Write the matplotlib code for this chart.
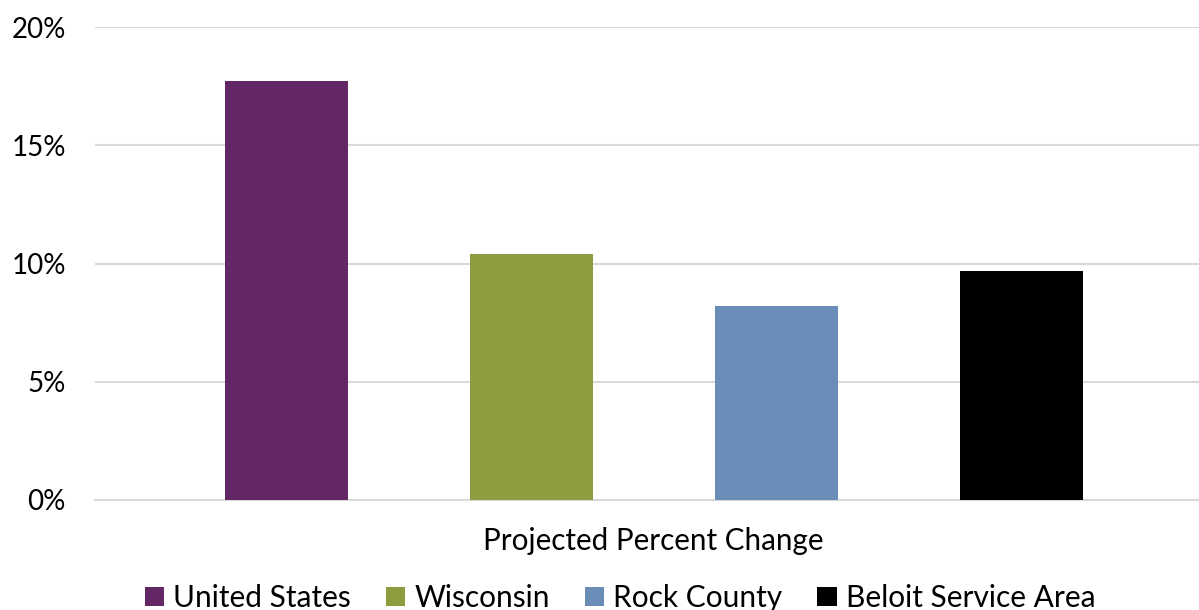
import numpy as np
import matplotlib.pyplot as plt
from matplotlib.patches import Patch

# data
areas = ["United States", "Wisconsin", "Rock County", "Beloit Service Area"]
change = [17.7, 10.4, 8.2, 9.7]
colors = ["#632766", "#8E9B3F", "#6A8DB8", "#000000"]
yticks = [0, 5, 10, 15, 20]
xlabel = "Projected Percent Change"

plt.rcParams['font.family'] = ['Lato', 'DejaVu Sans']

fig = plt.figure(figsize=(11.99, 6.10), dpi=100)
ax = fig.add_axes([95/1199, 1-500/610, 1-95/1199, (500-27)/610])

x = np.arange(len(areas))
ax.bar(x, change, width=0.502, color=colors, zorder=3)

ax.set_ylim(0, 20)
ax.set_xlim(-0.78, 3.724)
ax.set_yticks(yticks)
ax.set_yticklabels([f"{t}%" for t in yticks], fontsize=20)
ax.set_xticks([])
ax.yaxis.grid(True, color="#D9D9D9", linewidth=1.5, zorder=0)
ax.tick_params(axis='y', length=0, pad=21)
for s in ["top", "right", "left"]:
    ax.spines[s].set_visible(False)
ax.spines["bottom"].set_color("#D9D9D9")
ax.spines["bottom"].set_linewidth(1.5)

fig.text(653/1199, 1-541/610, xlabel, fontsize=21.3, ha="center", va="center")

handles = [Patch(facecolor=c, label=a) for a, c in zip(areas, colors)]
fig.legend(handles=handles, loc="center", bbox_to_anchor=(620/1199, 1-598/610),
           ncol=4, frameon=False, fontsize=21.5, handlelength=0.65, handleheight=0.65,
           handletextpad=0.3, columnspacing=1.17)

fig.savefig("out.png", dpi=100)
